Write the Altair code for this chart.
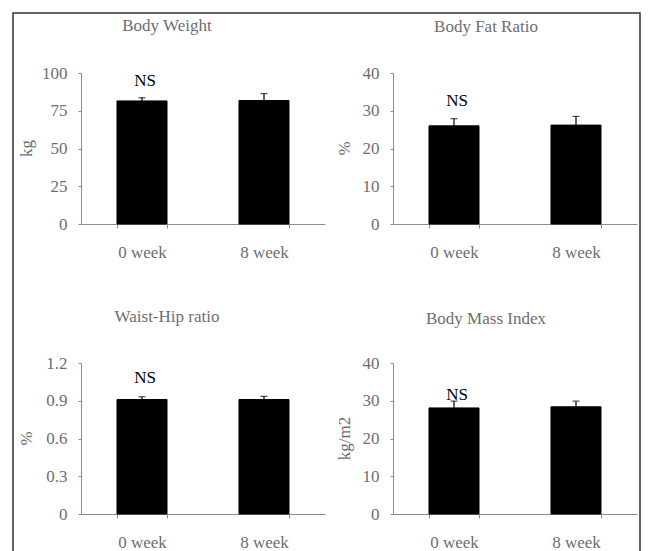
import altair as alt
import pandas as pd

weeks = ["0 week", "8 week"]
titles = ["Body Weight", "Body Fat Ratio", "Waist-Hip ratio", "Body Mass Index"]
ytitles = ["kg", "%", "%", "kg/m2"]

bw_mean = [81.5, 81.8]
bw_err = [2.1, 4.6]
bf_mean = [26.0, 26.2]
bf_err = [1.9, 2.3]
whr_mean = [0.91, 0.91]
whr_err = [0.022, 0.025]
bmi_mean = [28.1, 28.4]
bmi_err = [1.8, 1.5]

ns_label = "NS"
ns_y = [95, 32.6, 1.08, 31.6]

y_max = [100, 40, 1.2, 40]
y_ticks = [[0, 25, 50, 75, 100], [0, 10, 20, 30, 40],
           [0, 0.3, 0.6, 0.9, 1.2], [0, 10, 20, 30, 40]]

FONT = "Liberation Serif"
GRAY = "#6e6e6e"
AXIS = "#8c8c8c"


def panel(i, means, errs, width, title_dx, ytitle_x, title_offset, frame=False):
    df = pd.DataFrame({
        "week": weeks,
        "mean": means,
        "hi": [m + e for m, e in zip(means, errs)],
    })
    xscale = alt.Scale(paddingInner=0.59, paddingOuter=0.295)
    xaxis = alt.Axis(
        title=None, labelAngle=0, tickBand="extent", tickSize=4,
        labelPadding=16, labelFont=FONT, labelFontSize=17,
        labelColor=GRAY, domainColor=AXIS, tickColor=AXIS,
        labelBaseline="top",
    )
    yscale = alt.Scale(domain=[0, y_max[i]], nice=False)
    yaxis = alt.Axis(
        values=y_ticks[i], labelExpr="'' + datum.value", grid=False,
        tickSize=3, labelOverlap=False, labelFlush=False,
        labelPadding=11, labelFont=FONT, labelFontSize=17,
        labelColor=GRAY, domainColor=AXIS, tickColor=AXIS,
        title=ytitles[i], titleFont=FONT, titleFontSize=17,
        titleFontWeight="normal", titleColor=GRAY,
        titleX=ytitle_x, titleY=75, titleAngle=270,
        titleAlign="center", titleBaseline="middle",
    )

    def X():
        return alt.X("week:N", sort=weeks, scale=xscale, axis=xaxis)

    def Y(field):
        return alt.Y(field, scale=yscale, axis=yaxis)

    bars = alt.Chart(df).mark_bar(color="black", stroke="black").encode(
        x=X(), y=Y("mean:Q")
    )
    err = alt.Chart(df).mark_rule(color="black", strokeWidth=1.2).encode(
        x=X(), y=Y("mean:Q"), y2="hi:Q"
    )
    cap = alt.Chart(df).mark_tick(color="black", size=7, thickness=1.2).encode(
        x=X(), y=Y("hi:Q")
    )
    ns_df = pd.DataFrame({"week": [weeks[0]], "ny": [ns_y[i]], "t": [ns_label]})
    ns = alt.Chart(ns_df).mark_text(
        font=FONT, fontSize=17, color="black", baseline="middle", dx=3
    ).encode(x=X(), y=Y("ny:Q"), text="t:N")
    layers = [bars, err, cap, ns]
    if frame:
        fr = alt.Chart(pd.DataFrame({"a": [0]})).mark_rect(
            fillOpacity=0, stroke="#333333", strokeWidth=1.5
        ).encode(
            x=alt.value(-68), x2=alt.value(559),
            y=alt.value(-60), y2=alt.value(490),
        )
        layers = [fr] + layers
    return alt.layer(*layers).properties(
        width=width, height=151,
        title=alt.TitleParams(
            titles[i], font=FONT, fontSize=17, fontWeight="normal",
            color=GRAY, anchor="middle", dx=title_dx, offset=title_offset,
        ),
    )


p1 = panel(0, bw_mean, bw_err, 244, -36, -55, -23, frame=True)
p2 = panel(1, bf_mean, bf_err, 244, -29, -49, 28)
p3 = panel(2, whr_mean, whr_err, 244, -36, -55, 28)
p4 = panel(3, bmi_mean, bmi_err, 244, -29, -49, 26)

chart = alt.concat(
    p1, p2, p3, p4, columns=2,
    spacing={"row": 139, "column": 68}, bounds="flush",
).properties(
    padding={"left": 4, "top": 4, "right": 0, "bottom": 0}
).configure_view(stroke=None)

chart.save("out.html", embed_options={"renderer": "svg", "actions": False})
